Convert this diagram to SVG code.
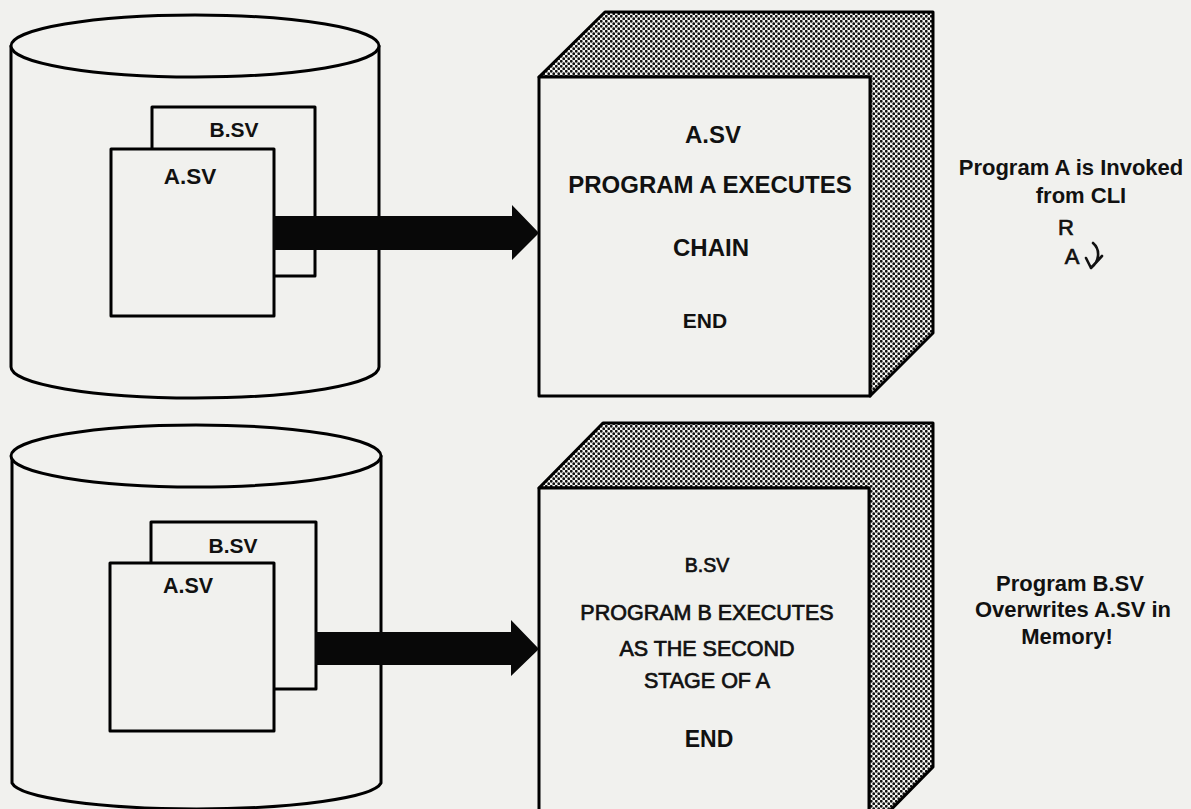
<svg xmlns="http://www.w3.org/2000/svg" width="1191" height="809" viewBox="0 0 1191 809">
  <defs>
    <!-- halftone dot screen used on the cube shading -->
    <pattern id="dots" patternUnits="userSpaceOnUse" width="5" height="5">
      <rect width="5" height="5" fill="#f4f4f1"/>
      <circle cx="1.25" cy="1.25" r="1.4" fill="#111"/>
      <circle cx="3.75" cy="3.75" r="1.4" fill="#111"/>
    </pattern>
    <style>
      .ln { fill: #f1f1ee; stroke: #000; stroke-width: 3; stroke-linejoin: round; }
      .shade { fill: url(#dots); stroke: #000; stroke-width: 3; stroke-linejoin: round; }
      .arrow { fill: #080808; }
      .t { font-family: "Liberation Sans", Arial, sans-serif; fill: #111; text-anchor: middle; }
      .b { font-weight: bold; }
      .m { font-weight: normal; stroke: #111; stroke-width: 0.7; }
    </style>
  </defs>

  <rect width="1191" height="809" fill="#f1f1ee"/>

  <!-- upper disk with stored program files -->
  <g id="disk-top">
    <path class="ln" d="M11,46 L11,367 A184,31 0 0 0 379,367 L379,46 Z"/>
    <ellipse class="ln" cx="195" cy="46" rx="184" ry="31"/>
    <g id="file-b-top">
      <rect class="ln" x="152" y="107" width="163" height="169"/>
      <text class="t b" x="234" y="137" font-size="21">B.SV</text>
    </g>
    <g id="file-a-top">
      <rect class="ln" x="111" y="149" width="163" height="167"/>
      <text class="t b" x="190" y="184" font-size="22.5">A.SV</text>
    </g>
  </g>

  <!-- lower disk with stored program files -->
  <g id="disk-bottom">
    <path class="ln" d="M12,456 L12,783 A185,28 0 0 0 381,783 L381,456 Z"/>
    <ellipse class="ln" cx="196" cy="456" rx="185" ry="31"/>
    <g id="file-b-bottom">
      <rect class="ln" x="151" y="522" width="165" height="167"/>
      <text class="t b" x="233" y="553" font-size="21">B.SV</text>
    </g>
    <g id="file-a-bottom">
      <rect class="ln" x="110" y="563" width="164" height="168"/>
      <text class="t b" x="188" y="593" font-size="21.5">A.SV</text>
    </g>
  </g>

  <!-- memory block: program A -->
  <g id="memory-top">
    <path class="shade" d="M539,77 L605,12 L933,12 L933,333 L870,396 L870,77 Z"/>
    <rect class="ln" x="539" y="77" width="331" height="319"/>
    <text class="t b" x="713" y="143" font-size="24">A.SV</text>
    <text class="t b" x="710" y="193" font-size="24">PROGRAM A EXECUTES</text>
    <text class="t b" x="711" y="256" font-size="24">CHAIN</text>
    <text class="t b" x="705" y="328" font-size="21">END</text>
  </g>

  <!-- memory block: program B -->
  <g id="memory-bottom">
    <path class="shade" d="M539,488 L603,423 L933,423 L933,767 L869,832 L869,488 Z"/>
    <rect class="ln" x="539" y="488" width="330" height="344"/>
    <text class="t m" x="707" y="572" font-size="19.5">B.SV</text>
    <text class="t m" x="707" y="620" font-size="21.5">PROGRAM B EXECUTES</text>
    <text class="t m" x="707" y="656" font-size="21.5">AS THE SECOND</text>
    <text class="t m" x="707" y="688" font-size="21.5">STAGE OF A</text>
    <text class="t b" x="709" y="747" font-size="23">END</text>
  </g>

  <!-- load arrows from disk into memory -->
  <g id="connectors">
    <path class="arrow" d="M273,216 L512,216 L512,205 L539,233 L512,260 L512,250 L273,250 Z"/>
    <path class="arrow" d="M315,632 L511,632 L511,620 L539,649 L511,676 L511,665 L315,665 Z"/>
  </g>

  <!-- notes -->
  <g id="note-top">
    <text class="t b" x="1071" y="175" font-size="22">Program A is Invoked</text>
    <text class="t b" x="1081" y="203" font-size="22">from CLI</text>
    <text class="t m" x="1066" y="235" font-size="22">R</text>
    <text class="t m" x="1072" y="264" font-size="22">A</text>
    <path d="M1093,243 C1101,250 1099,262 1091,268 M1086,258 L1091,268 L1102,256" fill="none" stroke="#111" stroke-width="2.6" stroke-linecap="round" stroke-linejoin="round"/>
  </g>
  <g id="note-bottom">
    <text class="t b" x="1070" y="591" font-size="22">Program B.SV</text>
    <text class="t b" x="1073" y="617" font-size="22">Overwrites A.SV in</text>
    <text class="t b" x="1067" y="644" font-size="22">Memory!</text>
  </g>
</svg>
